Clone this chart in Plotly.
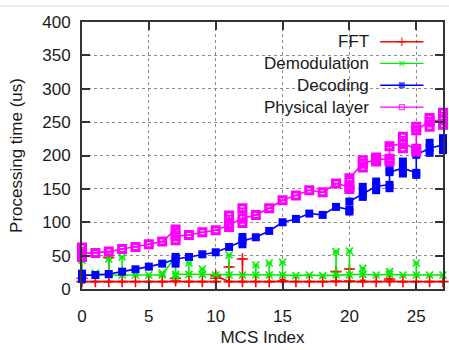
import plotly.graph_objects as go

# ---------------- data ----------------
fft_x = [0,1,2,3,4,5,6,7,8,9,10,10,11,12,13,14,15,16,17,18,19,20,21,22,23,24,25,26,27]
fft_y = [11,11,11,11,11,11,11,12,11,11,11,20,11,11,11,11,12,11,11,11,12,12,11,11,12,11,11,11,11]
fft_lo = [9,11,11,11,11,11,11,11,11,11,11,16,11,11,11,11,11,11,11,11,11,11,11,11,11,11,11,11,11]
fft_hi = [16,11,47,11,11,11,11,16,11,11,11,22,33,45,11,11,14,11,11,11,26,30,13,11,15,11,11,11,11]

demod_x = [0,1,2,3,4,5,6,7,7,8,9,10,11,12,13,14,15,16,17,18,19,20,21,22,23,24,25,26,27]
demod_y = [21,21,21,21,21,21,21,49,22,22,22,21,21,21,21,21,21,20,21,20,21,21,22,21,22,21,21,21,21]
demod_lo = [18,21,21,21,21,21,21,49,19,22,22,21,21,21,21,21,21,20,21,20,21,21,22,21,22,21,21,21,21]
demod_hi = [43,24,45,48,21,21,24,51,22,39,30,21,51,21,36,39,40,20,21,20,56,57,31,21,26,21,39,21,21]

dec_x = [0,1,2,3,4,5,6,7,8,9,10,11,12,13,14,15,16,17,18,19,20,20,21,22,23,23,24,25,25,26,27]
dec_y = [20,21,22.5,26,29.5,33.5,38,45,48,52,55,63,72,77.5,87,100,105,113,111,123,119,131,143,154,156,175,181,174,201,211,216]
dec_lo = [15,21,22.5,26,29.5,33.5,38,38,48,52,55,63,67,77.5,87,100,105,113,111,123,116,131,138,148,151,175,173,171,201,204,208]
dec_hi = [23,21,22.5,26,29.5,33.5,38,48,48,52,55,63,78,77.5,87,100,105,113,111,123,119,131,153,161,156,178,191,174,204,219,226]

phy_x = [0,1,2,3,4,5,6,7,7,8,9,10,11,12,13,14,15,16,17,18,19,20,20,21,22,23,23,24,25,25,26,27]
phy_y = [53,54,56,60,63,67,71,89,79,81,85,88,96,106,111,121,133,140,148,145,158,153,166,188,194,195,214,218,210,238,251,254]
phy_lo = [48,54,56,60,63,67,71,89,73,81,85,88,93,99,111,121,133,140,148,145,158,150,166,182,191,191,214,211,206,238,243,246]
phy_hi = [62,54,56,60,63,67,71,91,79,81,85,88,110,121,111,121,133,140,148,145,158,153,168,193,197,195,216,228,210,243,256,264]

series_names = ["FFT", "Demodulation", "Decoding", "Physical layer"]
x_ticks = [0, 5, 10, 15, 20, 25]
y_ticks = [0, 50, 100, 150, 200, 250, 300, 350, 400]

# ---------------- styling ----------------
FONT = "Liberation Sans, Arial, sans-serif"
TXT = "#1a1a1a"
styles = [
    dict(color="#ff0000", symbol="cross-thin-open", size=8, lw=1.6),
    dict(color="#00ee00", symbol="x-thin-open", size=7, lw=1.6),
    dict(color="#0000ff", symbol="square", size=8, lw=0),
    dict(color="#ff00ff", symbol="square-open", size=7, lw=3),
]
data = [
    (fft_x, fft_y, fft_lo, fft_hi),
    (demod_x, demod_y, demod_lo, demod_hi),
    (dec_x, dec_y, dec_lo, dec_hi),
    (phy_x, phy_y, phy_lo, phy_hi),
]

fig = go.Figure()

for (xs, ys, lo, hi), st in zip(data, styles):
    plus = [h - y for h, y in zip(hi, ys)]
    minus = [y - l for y, l in zip(ys, lo)]
    mk = dict(symbol=st["symbol"], size=st["size"], color=st["color"],
              line=dict(color=st["color"], width=st["lw"]))
    fig.add_trace(go.Scatter(
        x=xs, y=ys, mode="lines+markers",
        line=dict(color=st["color"], width=1.6),
        marker=mk,
        error_y=dict(type="data", symmetric=False, array=plus, arrayminus=minus,
                     color=st["color"], thickness=1.6, width=3),
        showlegend=False, cliponaxis=False,
    ))
    # markers at the ends of the spread
    ex, ey = [], []
    for x, y, l, h in zip(xs, ys, lo, hi):
        if h - y > 2:
            ex.append(x); ey.append(h)
        if y - l > 2:
            ex.append(x); ey.append(l)
    fig.add_trace(go.Scatter(x=ex, y=ey, mode="markers", marker=mk,
                             showlegend=False, cliponaxis=False))

# ---- gnuplot-style legend (text left, sample right) ----
row_y = [0.926, 0.845, 0.763, 0.681]
for name, st, ry in zip(series_names, styles, row_y):
    fig.add_annotation(x=0.80, y=ry, xref="paper", yref="paper", text=name,
                       showarrow=False, xanchor="right", yanchor="middle",
                       font=dict(family=FONT, size=17, color=TXT))
    fig.add_trace(go.Scatter(
        x=[0.826, 0.886, 0.946], y=[ry, ry, ry], xaxis="x2", yaxis="y2",
        mode="lines+markers", line=dict(color=st["color"], width=1.4),
        marker=dict(symbol=st["symbol"], size=[0, st["size"] - 2, 0], color=st["color"],
                    line=dict(color=st["color"], width=1.4 if st["lw"] else 0)),
        showlegend=False, hoverinfo="skip", cliponaxis=False))

# light separator line at top of the page
fig.add_shape(type="line", xref="paper", yref="paper", x0=-0.23, x1=1.02, y0=1.06, y1=1.06,
              line=dict(color="#d9d9d9", width=1))

axis_common = dict(
    showline=True, linecolor="#333333", linewidth=2, mirror="ticks",
    ticks="inside", ticklen=8, tickwidth=1.5, tickcolor="#333333",
    showgrid=True, gridcolor="#8a8a8a", griddash="dot", gridwidth=1,
    zeroline=False,
    tickfont=dict(family=FONT, size=17, color=TXT),
)

fig.update_layout(
    width=449, height=350,
    margin=dict(l=82, r=4, t=22, b=61),
    paper_bgcolor="white", plot_bgcolor="white",
    font=dict(family=FONT, size=17, color=TXT),
    xaxis=dict(range=[0, 27], tickvals=x_ticks, **axis_common,
               title=dict(text="MCS Index", font=dict(family=FONT, size=17, color=TXT), standoff=6),
               ticklabelstandoff=11),
    yaxis=dict(range=[0, 400], tickvals=y_ticks, **axis_common,
               title=dict(text="Processing time (us)", font=dict(family=FONT, size=17, color=TXT), standoff=15),
               ticklabelstandoff=6),
    xaxis2=dict(overlaying="x", range=[0, 1], visible=False),
    yaxis2=dict(overlaying="y", range=[0, 1], visible=False),
)

fig.write_html("out.html")
